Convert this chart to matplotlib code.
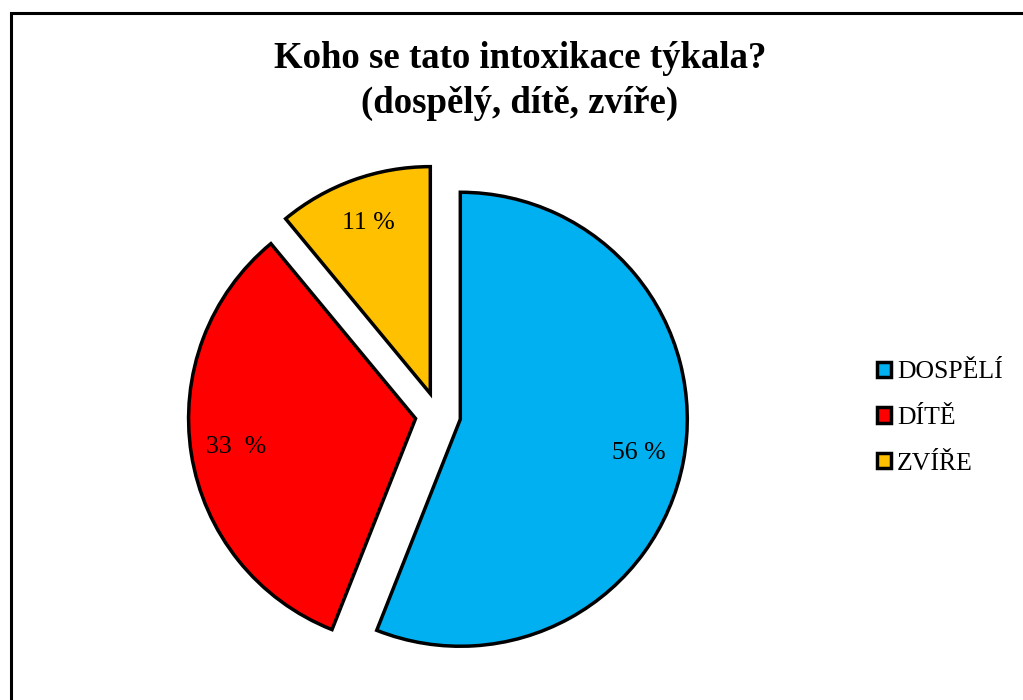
import matplotlib
matplotlib.use("Agg")
import numpy as np
import matplotlib.pyplot as plt
from matplotlib.patches import Patch, Rectangle

categories = ["DOSPĚLÍ", "DÍTĚ", "ZVÍŘE"]
values = [56, 33, 11]
pct_labels = ["56 %", "33  %", "11 %"]
colors = ["#00B0F0", "#FF0000", "#FFC000"]
title = "Koho se tato intoxikace týkala?\n(dospělý, dítě, zvíře)"

plt.rcParams['font.family'] = ['Liberation Serif', 'DejaVu Serif']

W, H = 1023, 700
fig = plt.figure(figsize=(W / 100, H / 100), dpi=100)
ax = fig.add_axes([0, 0, 1, 1])

R = 227.0  # pixel radius
cx, cy = 438.0, 700 - 415.0

wedges, texts = ax.pie(values, colors=colors, startangle=90, counterclock=False,
                       explode=[0.1, 0.1, 0.1],
                       wedgeprops=dict(edgecolor='black', linewidth=2.5, joinstyle='miter'))
for w, lab in zip(wedges, pct_labels):
    ang = np.deg2rad((w.theta1 + w.theta2) / 2)
    ox, oy = w.center
    ax.text(ox + 0.8 * np.cos(ang), oy + 0.8 * np.sin(ang), lab,
            ha='center', va='center', fontsize=18.5)

ax.set_aspect('auto')
ax.set_xlim(-cx / R, (W - cx) / R)
ax.set_ylim(-cy / R, (H - cy) / R)
ax.axis('off')

fig.text(520 / W, 1 - 81 / H, title, ha='center', va='center', fontsize=26.5,
         fontweight='bold', linespacing=1.38)

handles = [Patch(facecolor=c, edgecolor='black', linewidth=2.5) for c in colors]
fig.legend(handles, categories, loc='center left', bbox_to_anchor=(864 / W, 1 - 418 / H),
           frameon=False, fontsize=18.5, handlelength=0.55, handleheight=0.55,
           handletextpad=0.23, labelspacing=0.92, borderpad=0)

fig.patches.append(Rectangle((10.5 / W, -0.1), 1.2, (H - 12.5) / H + 0.1,
                             transform=fig.transFigure, fill=False,
                             edgecolor='black', linewidth=2.2, figure=fig))

fig.savefig("out.png", dpi=100)
